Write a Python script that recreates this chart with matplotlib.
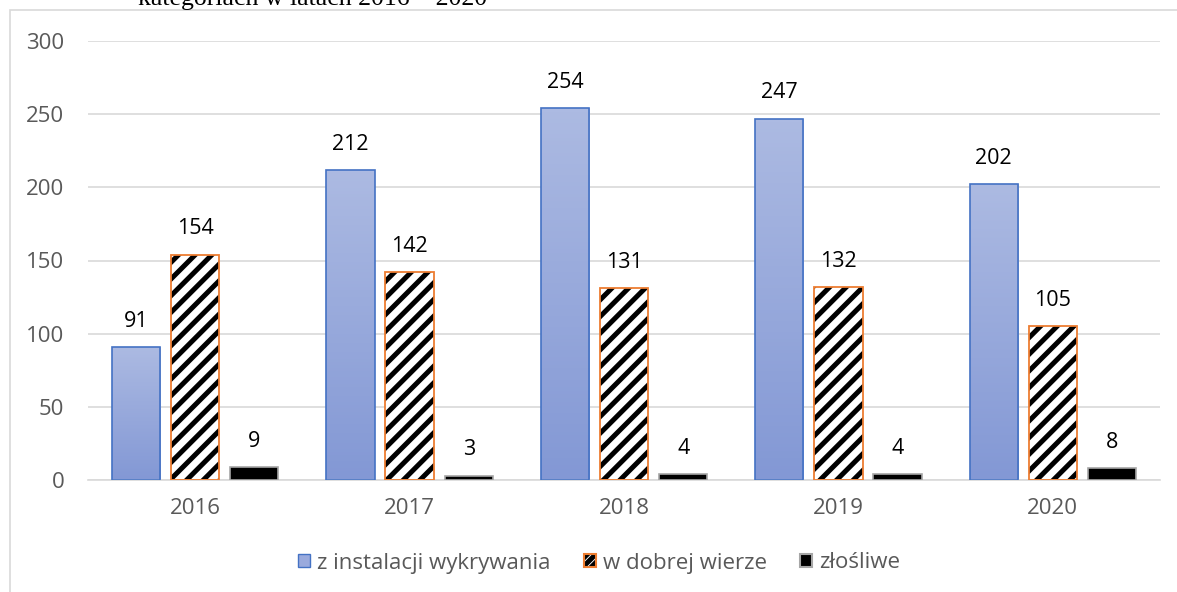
import numpy as np
import matplotlib
matplotlib.use("Agg")
import matplotlib.pyplot as plt
from matplotlib.patches import Rectangle
from matplotlib.colors import LinearSegmentedColormap

years = ["2016", "2017", "2018", "2019", "2020"]
detection = [91, 212, 254, 247, 202]
good_faith = [154, 142, 131, 132, 105]
malicious = [9, 3, 4, 4, 8]
series_names = ["z instalacji wykrywania", "w dobrej wierze", "złośliwe"]
title_text = "kategoriach w latach 2016 – 2020"

plt.rcParams["font.family"] = ["Open Sans", "DejaVu Sans"]
plt.rcParams["hatch.linewidth"] = 3.6

fig = plt.figure(figsize=(11.77, 5.92), dpi=100)
ax = fig.add_axes([88 / 1177, 1 - 480 / 592, (1160 - 88) / 1177, (480 - 41) / 592])

# outer chart frame (cut by the page)
fig.patches.append(Rectangle((10 / 1177, -0.2), 1.2, 1 - 10 / 592 + 0.2,
                             transform=fig.transFigure, fill=False,
                             edgecolor="#D9D9D9", linewidth=1.2))
fig.text(138 / 1177, 1 - 5 / 592, title_text, family="Liberation Serif",
         fontsize=18.5, va="baseline", ha="left", color="black")

x = np.arange(len(years))
w = 0.225
step = 0.276

grad = LinearSegmentedColormap.from_list("g", ["#8398D5", "#ACBAE2"])

b1 = ax.bar(x - step, detection, w, facecolor="none", edgecolor="#4472C4", linewidth=1.2, zorder=3)
for p in b1:
    x0, y0 = p.get_x(), p.get_y()
    im = ax.imshow(np.linspace(0, 1, 100).reshape(-1, 1), cmap=grad, origin="lower",
                   extent=[x0, x0 + p.get_width(), y0, y0 + p.get_height()],
                   aspect="auto", zorder=2)
    im.set_clip_path(p)

# hatch drawn black, orange outline on top
ax.bar(x, good_faith, w, facecolor="white", edgecolor="black", hatch="//",
       linewidth=0, zorder=2)
b2 = ax.bar(x, good_faith, w, facecolor="none", edgecolor="#ED7D31", linewidth=1.3, zorder=3)
b3 = ax.bar(x + step, malicious, w, facecolor="black", edgecolor="#A6A6A6", linewidth=1.2, zorder=3)

for bars, vals in [(b1, detection), (b2, good_faith), (b3, malicious)]:
    for p, v in zip(bars, vals):
        ax.annotate(str(v), (p.get_x() + p.get_width() / 2, v), xytext=(0, 18.5),
                    textcoords="offset points", ha="center", va="center",
                    fontsize=15.5, color="black")

ax.set_xlim(-0.5, len(years) - 0.5)
ax.set_ylim(0, 300)
ax.set_yticks(range(0, 301, 50))
ax.set_xticks(x)
ax.set_xticklabels(years)
ax.tick_params(length=0, colors="#595959", labelsize=16)
ax.tick_params(axis="y", pad=17)
ax.tick_params(axis="x", pad=13)
ax.grid(axis="y", color="#D9D9D9", linewidth=1.2, zorder=0)
ax.set_axisbelow(True)
for s in ["top", "right", "left"]:
    ax.spines[s].set_visible(False)
ax.spines["bottom"].set_color("#D9D9D9")
ax.spines["bottom"].set_linewidth(1.2)

h1 = Rectangle((0, 0), 1, 1, facecolor="#9AAADD", edgecolor="#4472C4")
h2a = Rectangle((0, 0), 1, 1, facecolor="white", edgecolor="black", hatch="////", linewidth=0)
h2b = Rectangle((0, 0), 1, 1, facecolor="none", edgecolor="#ED7D31", linewidth=1.5)
h3 = Rectangle((0, 0), 1, 1, facecolor="black", edgecolor="#A6A6A6", linewidth=1.5)
leg = fig.legend([h1, (h2a, h2b), h3], series_names, loc="center",
                 bbox_to_anchor=(599 / 1177, 1 - 563 / 592),
                 ncol=3, frameon=False, fontsize=16, handlelength=0.55, handleheight=0.55,
                 handletextpad=0.3, columnspacing=1.5, labelcolor="#595959")

fig.savefig("out.png", dpi=100)
